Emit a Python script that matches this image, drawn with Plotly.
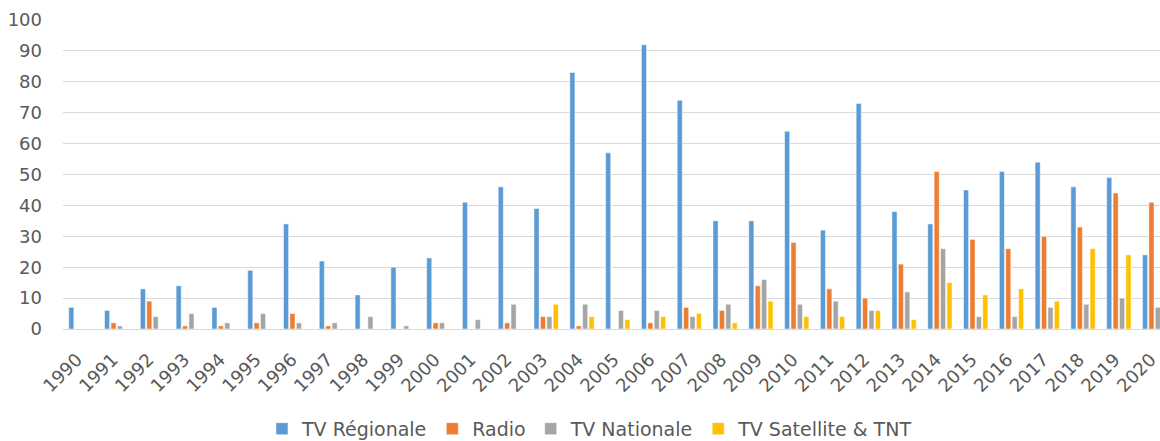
import plotly.graph_objects as go

years = [str(y) for y in range(1990, 2021)]
tv_regionale = [7, 6, 13, 14, 7, 19, 34, 22, 11, 20, 23, 41, 46, 39, 83, 57, 92, 74, 35, 35,
                64, 32, 73, 38, 34, 45, 51, 54, 46, 49, 24]
radio = [0, 2, 9, 1, 1, 2, 5, 1, 0, 0, 2, 0, 2, 4, 1, 0, 2, 7, 6, 14,
         28, 13, 10, 21, 51, 29, 26, 30, 33, 44, 41]
tv_nationale = [0, 1, 4, 5, 2, 5, 2, 2, 4, 1, 2, 3, 8, 4, 8, 6, 6, 4, 8, 16,
                8, 9, 6, 12, 26, 4, 4, 7, 8, 10, 7]
tv_satellite = [0, 0, 0, 0, 0, 0, 0, 0, 0, 0, 0, 0, 0, 8, 4, 3, 4, 5, 2, 9,
                4, 4, 6, 3, 15, 11, 13, 9, 26, 24, 0]

series = [
    ("TV Régionale", tv_regionale, "#5B9BD5"),
    ("Radio", radio, "#ED7D31"),
    ("TV Nationale", tv_nationale, "#A5A5A5"),
    ("TV Satellite & TNT", tv_satellite, "#FFC000"),
]

fig = go.Figure()
for name, vals, color in series:
    fig.add_trace(go.Bar(
        x=years, y=vals, name=name,
        marker=dict(color=color, line=dict(color="white", width=0.5)),
    ))

font_family = "DejaVu Sans, sans-serif"
fig.update_layout(
    width=1160, height=441,
    margin=dict(l=63, r=0, t=20, b=112, autoexpand=False),
    paper_bgcolor="white", plot_bgcolor="white",
    barmode="group", bargap=0.285, bargroupgap=0.2,
    font=dict(family=font_family, color="#595959", size=18),
    showlegend=True,
    legend=dict(orientation="h", x=0.1814, xanchor="left", y=-0.323, yanchor="middle",
                font=dict(size=19, color="#595959"), traceorder="normal",
                itemwidth=30, borderwidth=0, bgcolor="rgba(0,0,0,0)"),
    xaxis=dict(type="category", range=[-0.5, 30.15], tickangle=-45,
               showgrid=False, showline=False, automargin=False,
               ticks="outside", ticklen=12, tickcolor="rgba(0,0,0,0)",
               ticklabelshift=-4,
               tickfont=dict(size=18, color="#595959")),
    yaxis=dict(range=[0, 100], dtick=10, showgrid=True, gridcolor="#D9D9D9", gridwidth=1.3,
               zeroline=True, zerolinecolor="#D9D9D9", zerolinewidth=1.3,
               ticks="", ticklabelstandoff=20, automargin=False,
               tickfont=dict(size=18, color="#595959")),
)

post = (
    "document.documentElement.style.margin='0';"
    "document.documentElement.style.overflow='hidden';"
    "document.documentElement.style.height='441px';"
    "document.body.style.margin='0';"
    "document.body.style.overflow='hidden';"
    "document.body.style.height='441px';"
    "var d=document.getElementById('{plot_id}');"
    "d.style.display='block';"
    "d.parentElement.style.height='441px';"
    "d.parentElement.style.overflow='hidden';"
)

fig.write_html("out.html", config={"displayModeBar": False}, post_script=post)
